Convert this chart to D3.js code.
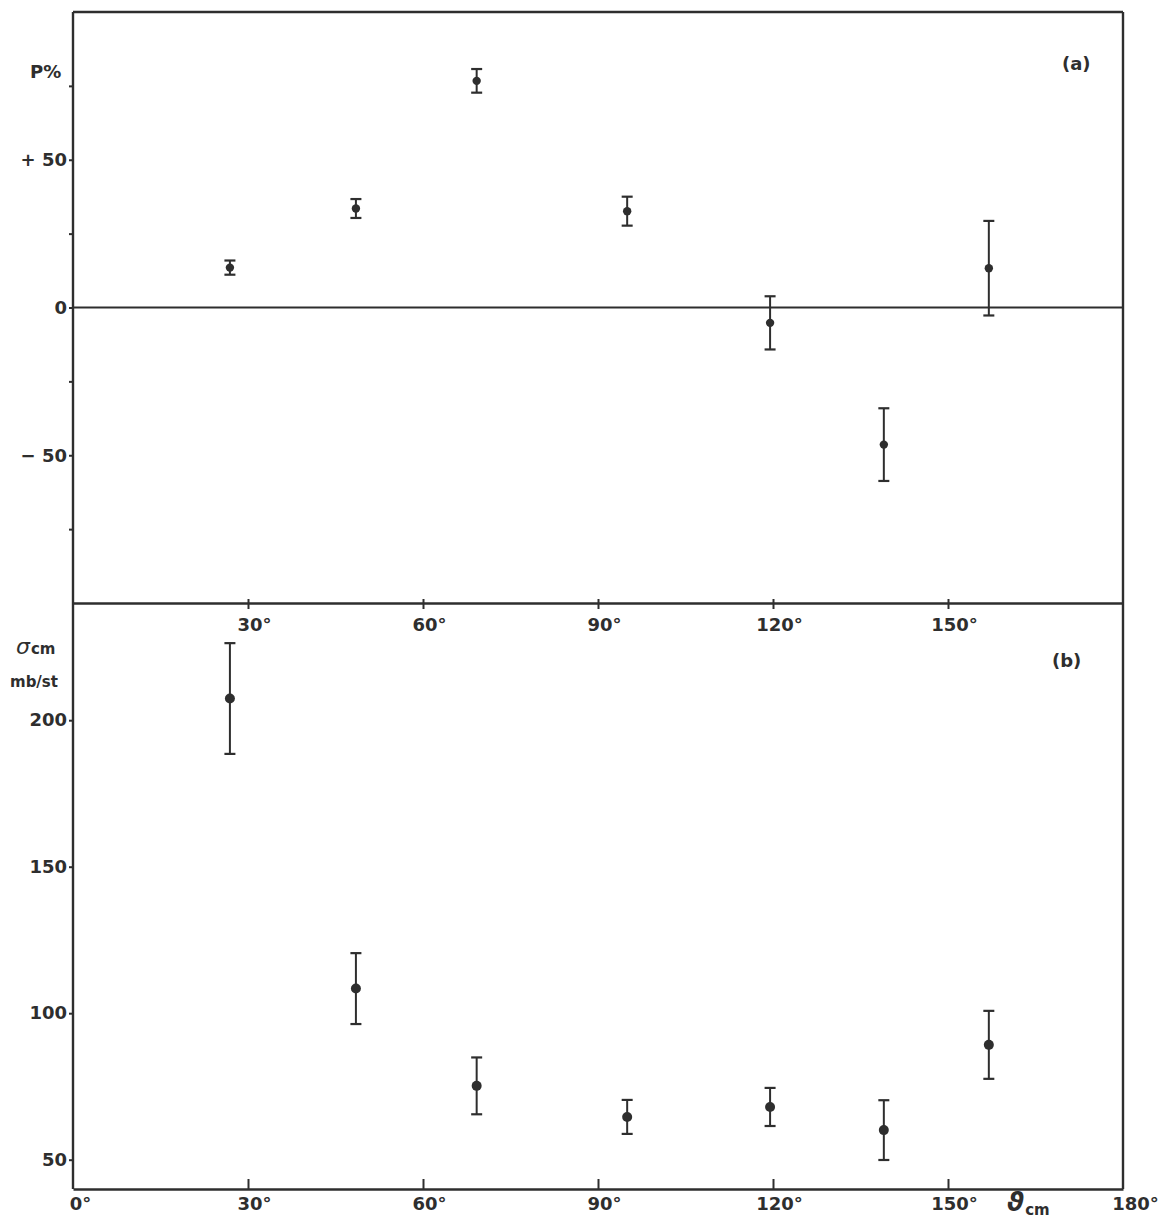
<!DOCTYPE html>
<html>
<head>
<meta charset="utf-8">
<script src="https://cdn.jsdelivr.net/npm/d3@7"></script>
<style>
  html, body { margin: 0; padding: 0; background: #ffffff; }
  svg { display: block; }
  text { font-family: "DejaVu Sans", Verdana, sans-serif; font-weight: bold; fill: #2e2e2e; }
</style>
</head>
<body>
<script>
// ---- data ----
const angles      = [26.9, 48.5, 69.2, 95.0, 119.5, 139.0, 157.0];     // ϑcm (degrees)
const polarization = [13.5, 33.5, 76.7, 32.6, -5.2, -46.4, 13.3];      // P %
const polErr       = [2.4, 3.2, 4.0, 4.9, 9.0, 12.3, 16.0];
const sigma        = [207.4, 108.4, 75.2, 64.6, 68.0, 60.1, 89.2];      // σcm mb/st
const sigmaErr     = [18.9, 12.1, 9.7, 5.8, 6.5, 10.2, 11.6];
const xTickValues  = [30, 60, 90, 120, 150];
const xBottomTicks = [0, 30, 60, 90, 120, 150, 180];
const pTicks       = [-75, -50, -25, 0, 25, 50, 75];
const pTickLabels  = {"-50": "\u2212 50", "0": "0", "50": "+ 50"};
const sTicks       = [50, 100, 150, 200];

const W = 1163, H = 1221;
const ink = "#2e2e2e";
const svg = d3.select("body").append("svg").attr("width", W).attr("height", H);

const left = 73, right = 1123;
const x  = d3.scaleLinear().domain([0, 180]).range([left, right]);
const yA = d3.scaleLinear().domain([-100, 100]).range([603, 12]);
const yB = d3.scaleLinear().domain([40, 240]).range([1189, 603]);

const aTop = yA(100), mid = yA(-100), bBot = yB(40);

// ---- frame ----
const frame = svg.append("g").attr("stroke", ink).attr("stroke-width", 2.4).attr("fill", "none");
frame.append("line").attr("x1", left).attr("x2", right).attr("y1", aTop).attr("y2", aTop);
frame.append("line").attr("x1", right).attr("x2", right).attr("y1", aTop).attr("y2", bBot);
frame.append("line").attr("x1", left).attr("x2", left).attr("y1", aTop).attr("y2", bBot);
// zero line of panel (a)
frame.append("line").attr("x1", left).attr("x2", right).attr("y1", yA(0)).attr("y2", yA(0)).attr("stroke-width", 2);

function styleAxis(g) {
  g.select(".domain").attr("stroke", ink).attr("stroke-width", 2.4);
  g.selectAll(".tick line").attr("stroke", ink).attr("stroke-width", 2);
  g.selectAll(".tick text").attr("fill", ink)
    .style("font-family", '"DejaVu Sans", Verdana, sans-serif')
    .style("font-weight", "bold").style("font-size", "18px");
}

// ---- middle x axis (shared between panels) ----
const gMid = svg.append("g").attr("transform", `translate(0,${mid})`)
  .call(d3.axisBottom(x).tickValues(xTickValues).tickSizeInner(6).tickSizeOuter(0).tickPadding(9)
        .tickFormat(d => d + "\u00B0"));
styleAxis(gMid);
gMid.selectAll(".tick line").attr("y1", -4);
gMid.selectAll(".tick text").attr("dx", 6);

// ---- bottom x axis ----
const gBot = svg.append("g").attr("transform", `translate(0,${bBot})`)
  .call(d3.axisBottom(x).tickValues(xBottomTicks).tickSizeInner(-10).tickSizeOuter(0).tickPadding(8)
        .tickFormat(d => d + "\u00B0"));
styleAxis(gBot);
gBot.selectAll(".tick text").attr("dx", (d) => d === 0 ? 7 : (d === 180 ? 12 : 6));
gBot.selectAll(".tick line").filter(d => d === 0 || d === 180).remove();

// ---- y axis panel (a) ----
const gA = svg.append("g").attr("transform", `translate(${left},0)`)
  .call(d3.axisLeft(yA).tickValues(pTicks).tickSizeInner(4).tickSizeOuter(0).tickPadding(2)
        .tickFormat(d => pTickLabels[String(d)] || ""));
styleAxis(gA);
gA.select(".domain").remove();

// ---- y axis panel (b) ----
const gB = svg.append("g").attr("transform", `translate(${left},0)`)
  .call(d3.axisLeft(yB).tickValues(sTicks).tickSizeInner(4).tickSizeOuter(0).tickPadding(2)
        .tickFormat(d3.format("d")));
styleAxis(gB);
gB.select(".domain").remove();

// ---- labels ----
svg.append("text").attr("x", 30).attr("y", 78).style("font-size", "18px").text("P%");
svg.append("text").attr("x", 1062).attr("y", 70).style("font-size", "18px").text("(a)");
svg.append("text").attr("x", 1052).attr("y", 667).style("font-size", "18px").text("(b)");

const sl = svg.append("text").attr("x", 16).attr("y", 654);
sl.append("tspan").style("font-size", "22px").style("font-style", "italic").style("font-weight", "normal").text("\u03C3");
sl.append("tspan").style("font-size", "15px").attr("dx", 1).text("cm");
svg.append("text").attr("x", 10).attr("y", 687).style("font-size", "15px").text("mb/st");

const tl = svg.append("text").attr("x", 1007).attr("y", 1211);
tl.append("tspan").style("font-size", "26px").style("font-style", "italic").text("\u03D1");
tl.append("tspan").style("font-size", "15px").attr("dy", 4).attr("dx", 1).text("cm");

// ---- data marks ----
function drawSeries(vals, errs, yScale, r) {
  const data = angles.map((a, i) => ({a, v: vals[i], e: errs[i]}));
  const g = svg.append("g").attr("stroke", ink).attr("fill", ink);
  const capW = 5.5;
  const pts = g.selectAll("g.pt").data(data).join("g").attr("class", "pt");
  pts.append("line").attr("x1", d => x(d.a)).attr("x2", d => x(d.a))
    .attr("y1", d => yScale(d.v + d.e)).attr("y2", d => yScale(d.v - d.e)).attr("stroke-width", 2);
  pts.append("line").attr("x1", d => x(d.a) - capW).attr("x2", d => x(d.a) + capW)
    .attr("y1", d => yScale(d.v + d.e)).attr("y2", d => yScale(d.v + d.e)).attr("stroke-width", 2.2);
  pts.append("line").attr("x1", d => x(d.a) - capW).attr("x2", d => x(d.a) + capW)
    .attr("y1", d => yScale(d.v - d.e)).attr("y2", d => yScale(d.v - d.e)).attr("stroke-width", 2.2);
  pts.append("circle").attr("cx", d => x(d.a)).attr("cy", d => yScale(d.v)).attr("r", r).attr("stroke", "none");
}
drawSeries(polarization, polErr, yA, 4.2);
drawSeries(sigma, sigmaErr, yB, 5);
</script>
</body>
</html>
